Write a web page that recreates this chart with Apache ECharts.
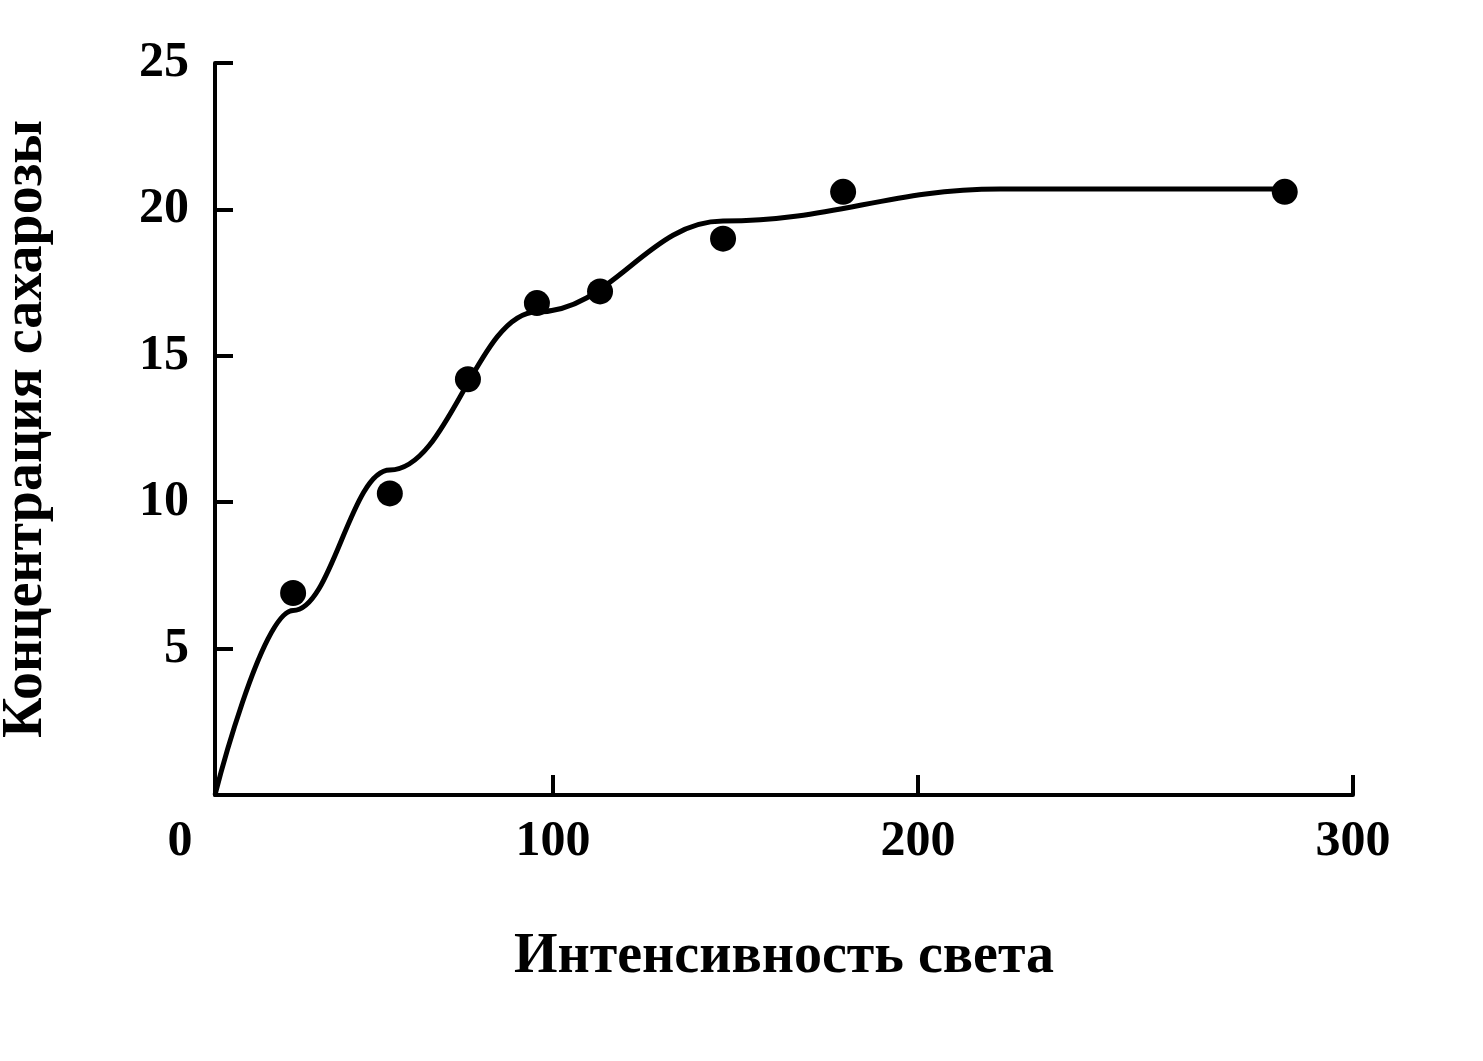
<!DOCTYPE html>
<html><head><meta charset="utf-8">
<script src="https://cdn.jsdelivr.net/npm/echarts@6/dist/echarts.min.js"></script>
<style>html,body{margin:0;background:#fff}#c{width:1483px;height:1061px}</style></head>
<body><div id="c"></div>
<script>
const pointsX = [28.8, 55.3, 76.7, 95.6, 112.9, 146.6, 179.5, 300.5];
const pointsY = [6.9, 10.3, 14.2, 16.8, 17.2, 19.0, 20.6, 20.6];
const curveX = [7.4, 28.8, 55.3, 95.6, 146.6, 222.5, 300];
const curveY = [0, 6.3, 11.1, 16.5, 19.6, 20.7, 20.7];
const xTicks = [7.4, 100, 200, 319.2];
const xTickLabels = ['0', '100', '200', '300'];
const yTicks = [5, 10, 15, 20, 25];
const font = '"Liberation Serif", "DejaVu Serif", serif';
const chart = echarts.init(document.getElementById('c'));
chart.setOption({
  animation: false,
  grid: {left: 215, right: 130, top: 63, bottom: 266, outerBoundsMode: 'none', containLabel: false},
  xAxis: {
    type: 'value', min: 7.4, max: 319.2,
    name: 'Интенсивность света', nameLocation: 'middle', nameGap: 135,
    nameTextStyle: {fontFamily: font, fontWeight: 'bold', fontSize: 56, color: '#000'},
    axisLine: {lineStyle: {color: '#000', width: 4}},
    axisTick: {inside: true, length: 20, lineStyle: {color: '#000', width: 4}, customValues: xTicks.slice(1)},
    splitLine: {show: false},
    axisLabel: {customValues: xTicks, margin: 22, fontFamily: font, fontWeight: 'bold', fontSize: 50, color: '#000',
      formatter: v => { const i = xTicks.indexOf(v); return i === 0 ? '0{pad|}' : xTickLabels[i]; },
      rich: {pad: {width: 70}}}
  },
  yAxis: {
    type: 'value', min: 0, max: 25,
    name: 'Концентрация сахарозы', nameLocation: 'middle', nameGap: 160,
    nameTextStyle: {fontFamily: font, fontWeight: 'bold', fontSize: 56, color: '#000'},
    axisLine: {show: true, lineStyle: {color: '#000', width: 4}},
    axisTick: {show: true, inside: true, length: 18, lineStyle: {color: '#000', width: 4}, customValues: yTicks},
    splitLine: {show: false},
    axisLabel: {customValues: yTicks, margin: 26, fontFamily: font, fontWeight: 'bold', fontSize: 50, color: '#000'}
  },
  series: [
    {type: 'line', smooth: 0.4, smoothMonotone: 'x', symbol: 'none', lineStyle: {color: '#000', width: 5},
      data: curveX.map((x, i) => [x, curveY[i]])},
    {type: 'scatter', symbolSize: 26, itemStyle: {color: '#000', opacity: 1},
      data: pointsX.map((x, i) => [x, pointsY[i]])}
  ]
});
</script></body></html>
